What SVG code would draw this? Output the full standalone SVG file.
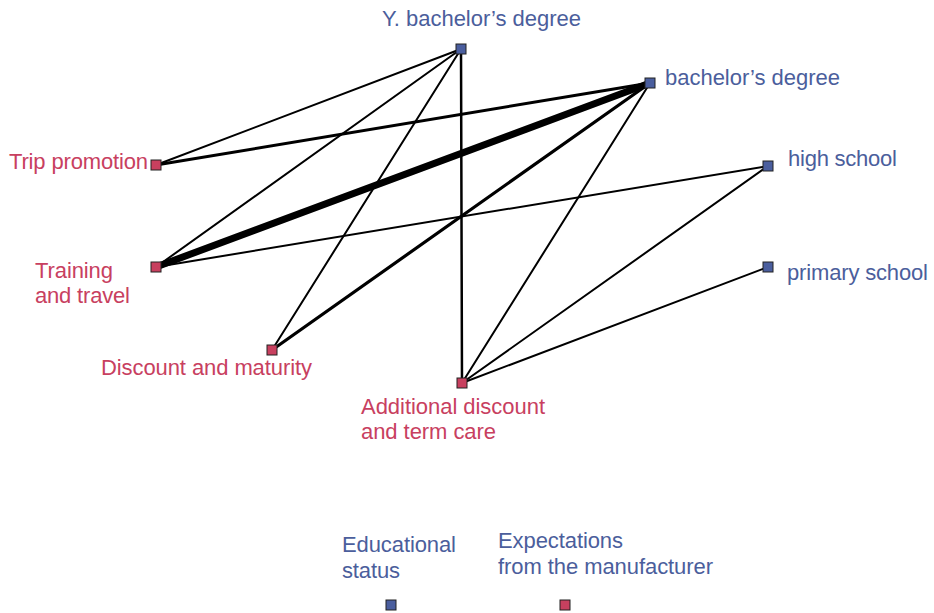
<svg xmlns="http://www.w3.org/2000/svg" width="934" height="613" viewBox="0 0 934 613">
<style>
text{font-family:"Liberation Sans",Arial,sans-serif;font-size:22px}
.b{fill:#4b5e9c}
.r{fill:#c8405f}
.nb{fill:#4a5e9e;stroke:#222;stroke-width:1}
.nr{fill:#c8405f;stroke:#222;stroke-width:1}
.e{stroke:#000;stroke-linecap:round;fill:none}
</style>
<rect width="934" height="613" fill="#fff"/>
<g id="connectors">
<line class="e" x1="461" y1="49" x2="156" y2="165" stroke-width="2"/>
<line class="e" x1="461" y1="49" x2="156" y2="267" stroke-width="2"/>
<line class="e" x1="461" y1="49" x2="272" y2="350" stroke-width="2"/>
<line class="e" x1="461" y1="49" x2="462" y2="383" stroke-width="2.5"/>
<line class="e" x1="650" y1="83" x2="156" y2="165" stroke-width="3"/>
<line class="e" x1="650" y1="83" x2="156" y2="267" stroke-width="7"/>
<line class="e" x1="650" y1="83" x2="272" y2="350" stroke-width="3.2"/>
<line class="e" x1="650" y1="83" x2="462" y2="383" stroke-width="2"/>
<line class="e" x1="768" y1="166" x2="156" y2="267" stroke-width="2"/>
<line class="e" x1="768" y1="166" x2="462" y2="383" stroke-width="2"/>
<line class="e" x1="768" y1="267" x2="462" y2="383" stroke-width="2"/>
</g>
<g id="n-ybach"><rect class="nb" x="456" y="44" width="10" height="10"/><text class="b" x="382" y="26" textLength="199">Y. bachelor’s degree</text></g>
<g id="n-bach"><rect class="nb" x="645" y="78" width="10" height="10"/><text class="b" x="665" y="85" textLength="175">bachelor’s degree</text></g>
<g id="n-high"><rect class="nb" x="763" y="161" width="10" height="10"/><text class="b" x="788" y="166" textLength="109">high school</text></g>
<g id="n-primary"><rect class="nb" x="763" y="262" width="10" height="10"/><text class="b" x="787" y="280" textLength="141">primary school</text></g>
<g id="n-trip"><rect class="nr" x="151" y="160" width="10" height="10"/><text class="r" x="9" y="169" textLength="139">Trip promotion</text></g>
<g id="n-training"><rect class="nr" x="151" y="262" width="10" height="10"/><text class="r" x="35" y="278" textLength="78">Training</text><text class="r" x="35" y="303" textLength="95">and travel</text></g>
<g id="n-discount"><rect class="nr" x="267" y="345" width="10" height="10"/><text class="r" x="101" y="375" textLength="211">Discount and maturity</text></g>
<g id="n-additional"><rect class="nr" x="457" y="378" width="10" height="10"/><text class="r" x="361" y="414" textLength="184">Additional discount</text><text class="r" x="361" y="439" textLength="135">and term care</text></g>
<g id="legend">
<text class="b" x="342" y="552" textLength="114">Educational</text><text class="b" x="342" y="578" textLength="58">status</text>
<rect class="nb" x="386" y="600" width="10" height="10"/>
<text class="b" x="498" y="548" textLength="125">Expectations</text><text class="b" x="498" y="574" textLength="215">from the manufacturer</text>
<rect class="nr" x="560" y="600" width="10" height="10"/>
</g>
</svg>
